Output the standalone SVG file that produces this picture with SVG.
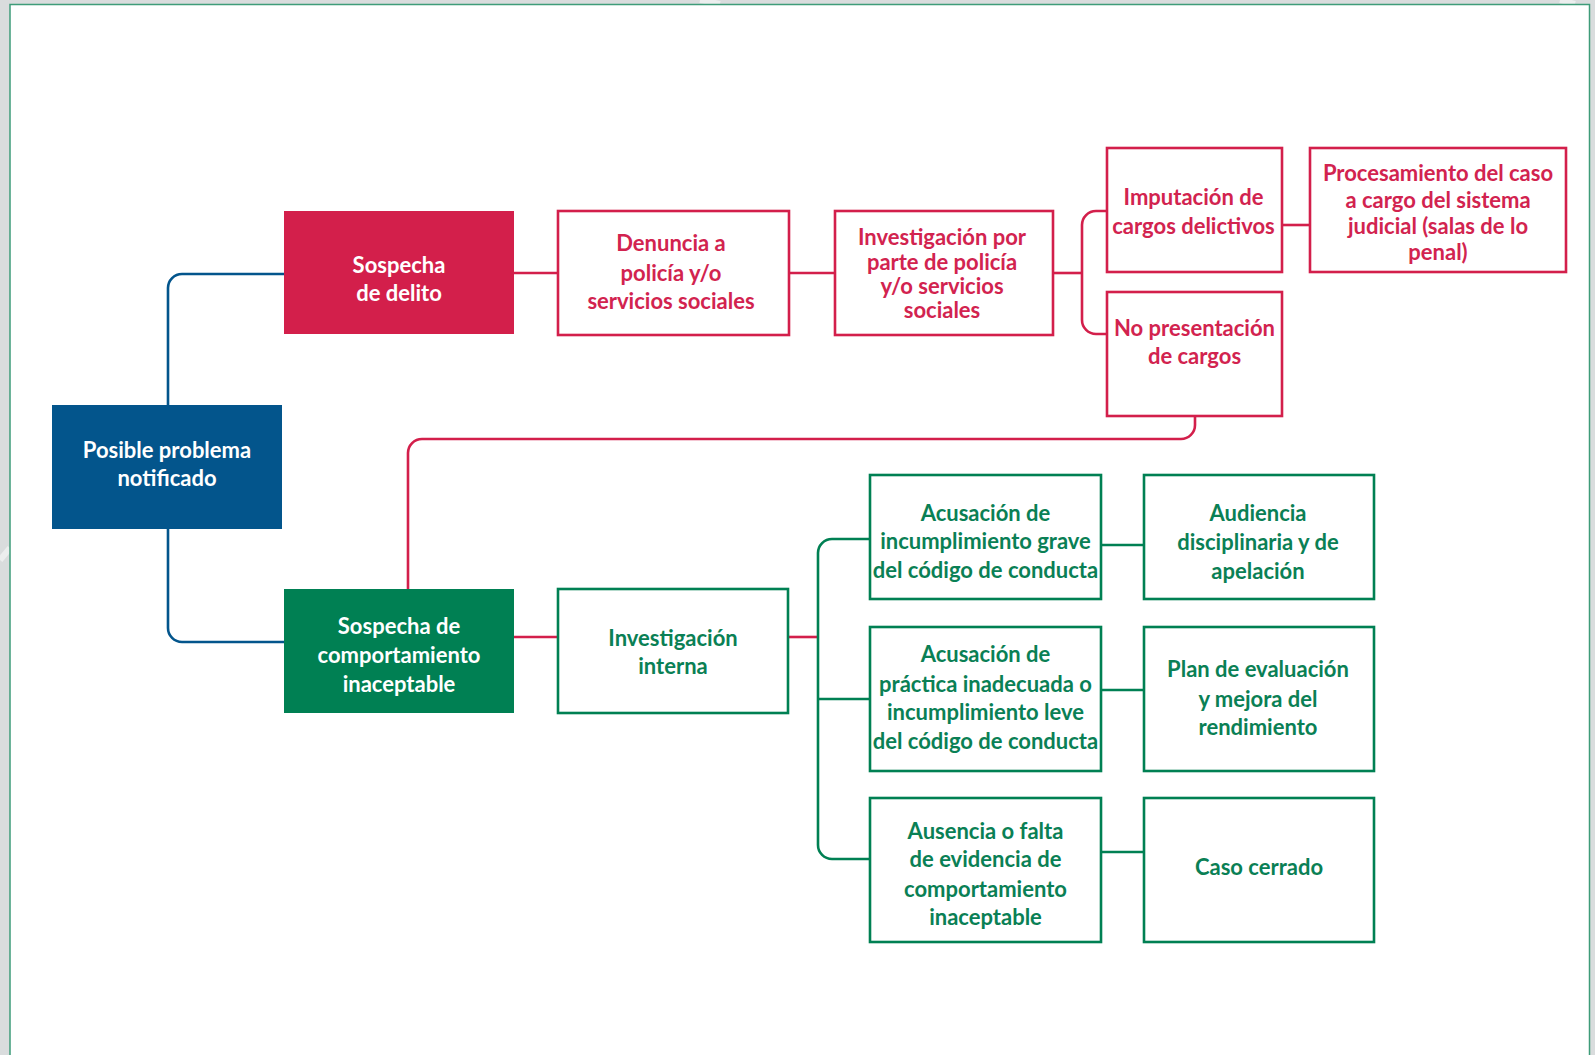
<svg xmlns="http://www.w3.org/2000/svg" width="1595" height="1055" viewBox="0 0 1595 1055">
<style>
  text { font-family: Lato, "Noto Sans", "Liberation Sans", sans-serif; font-weight: 700; font-size: 22px; text-anchor: middle; }
  .fill-blue { fill: #03558c; }
  .fill-red { fill: #d31f4b; }
  .fill-green { fill: #008053; }
  .wt { fill: #ffffff; }
  .rt { fill: #d2234f; }
  .gt { fill: #0a8055; }
  .box-red { fill: #ffffff; stroke: #d31f4b; stroke-width: 2.6; }
  .box-green { fill: #ffffff; stroke: #008053; stroke-width: 2.6; }
  .ln { fill: none; stroke-width: 2.6; }
  .lb { stroke: #03558c; }
  .lr { stroke: #d31f4b; }
  .lg { stroke: #008053; }
</style>
<rect x="0" y="0" width="1595" height="1055" fill="#d9dcdd"/>
<g opacity="0.5" fill="none" stroke="#ffffff" stroke-width="6">
  <path d="M0,560 L10,548"/>
  <path d="M700,0 L720,4"/>
  <path d="M1560,0 L1575,4"/>
</g>
<rect x="10" y="4.5" width="1579.5" height="1060" fill="#ffffff" stroke="#3e9c79" stroke-width="1.5"/>

<g id="connectors">
  <path class="ln lb" d="M168,405 V288 A14,14 0 0 1 182,274 H284"/>
  <path class="ln lb" d="M168,529 V628 A14,14 0 0 0 182,642 H284"/>
  <path class="ln lr" d="M514,273 H558"/>
  <path class="ln lr" d="M789,273 H835"/>
  <path class="ln lr" d="M1053,273 H1082"/>
  <path class="ln lr" d="M1107,211 H1096 A14,14 0 0 0 1082,225 V320 A14,14 0 0 0 1096,334 H1107"/>
  <path class="ln lr" d="M1282,225 H1310"/>
  <path class="ln lr" d="M1195,416 V425 A14,14 0 0 1 1181,439 H422 A14,14 0 0 0 408,453 V589"/>
  <path class="ln lr" d="M514,637 H558"/>
  <path class="ln lr" d="M788,637 H818"/>
  <path class="ln lg" d="M870,539 H832 A14,14 0 0 0 818,553 V845 A14,14 0 0 0 832,859 H870"/>
  <path class="ln lg" d="M818,699 H870"/>
  <path class="ln lg" d="M1101,545 H1144"/>
  <path class="ln lg" d="M1101,690 H1144"/>
  <path class="ln lg" d="M1101,852 H1144"/>
</g>

<g id="posible-problema">
  <rect class="fill-blue" x="52" y="405" width="230" height="124"/>
  <text class="wt" x="167" y="458">Posible problema</text>
  <text class="wt" x="167" y="486">notificado</text>
</g>

<g id="sospecha-delito">
  <rect class="fill-red" x="284" y="211" width="230" height="123"/>
  <text class="wt" x="399" y="273">Sospecha</text>
  <text class="wt" x="399" y="301">de delito</text>
</g>

<g id="sospecha-comportamiento">
  <rect class="fill-green" x="284" y="589" width="230" height="124"/>
  <text class="wt" x="399" y="634">Sospecha de</text>
  <text class="wt" x="399" y="663">comportamiento</text>
  <text class="wt" x="399" y="692">inaceptable</text>
</g>

<g id="denuncia">
  <rect class="box-red" x="558" y="211" width="231" height="124"/>
  <text class="rt" x="671" y="251">Denuncia a</text>
  <text class="rt" x="671" y="281">policía y/o</text>
  <text class="rt" x="671" y="309">servicios sociales</text>
</g>

<g id="investigacion-policia">
  <rect class="box-red" x="835" y="211" width="218" height="124"/>
  <text class="rt" x="942" y="245">Investigación por</text>
  <text class="rt" x="942" y="269.5">parte de policía</text>
  <text class="rt" x="942" y="293.5">y/o servicios</text>
  <text class="rt" x="942" y="318">sociales</text>
</g>

<g id="imputacion">
  <rect class="box-red" x="1107" y="148" width="175" height="124"/>
  <text class="rt" x="1193.5" y="204.5">Imputación de</text>
  <text class="rt" x="1193.5" y="234">cargos delictivos</text>
</g>

<g id="procesamiento">
  <rect class="box-red" x="1310" y="148" width="256" height="124"/>
  <text class="rt" x="1438" y="181">Procesamiento del caso</text>
  <text class="rt" x="1438" y="207.5">a cargo del sistema</text>
  <text class="rt" x="1438" y="233.5">judicial (salas de lo</text>
  <text class="rt" x="1438" y="259.5">penal)</text>
</g>

<g id="no-presentacion">
  <rect class="box-red" x="1107" y="292" width="175" height="124"/>
  <text class="rt" x="1194.5" y="335.5">No presentación</text>
  <text class="rt" x="1194.5" y="363.5">de cargos</text>
</g>

<g id="investigacion-interna">
  <rect class="box-green" x="558" y="589" width="230" height="124"/>
  <text class="gt" x="673" y="645.5">Investigación</text>
  <text class="gt" x="673" y="674">interna</text>
</g>

<g id="acusacion-grave">
  <rect class="box-green" x="870" y="475" width="231" height="124"/>
  <text class="gt" x="985.5" y="520.5">Acusación de</text>
  <text class="gt" x="985.5" y="549">incumplimiento grave</text>
  <text class="gt" x="985.5" y="578">del código de conducta</text>
</g>

<g id="audiencia">
  <rect class="box-green" x="1144" y="475" width="230" height="124"/>
  <text class="gt" x="1258" y="521">Audiencia</text>
  <text class="gt" x="1258" y="550">disciplinaria y de</text>
  <text class="gt" x="1258" y="579">apelación</text>
</g>

<g id="acusacion-leve">
  <rect class="box-green" x="870" y="627" width="231" height="144"/>
  <text class="gt" x="985.5" y="662">Acusación de</text>
  <text class="gt" x="985.5" y="691.5">práctica inadecuada o</text>
  <text class="gt" x="985.5" y="720">incumplimiento leve</text>
  <text class="gt" x="985.5" y="749">del código de conducta</text>
</g>

<g id="plan-evaluacion">
  <rect class="box-green" x="1144" y="627" width="230" height="144"/>
  <text class="gt" x="1258" y="677">Plan de evaluación</text>
  <text class="gt" x="1258" y="706.5">y mejora del</text>
  <text class="gt" x="1258" y="735">rendimiento</text>
</g>

<g id="ausencia">
  <rect class="box-green" x="870" y="798" width="231" height="144"/>
  <text class="gt" x="985.5" y="839">Ausencia o falta</text>
  <text class="gt" x="985.5" y="867">de evidencia de</text>
  <text class="gt" x="985.5" y="897">comportamiento</text>
  <text class="gt" x="985.5" y="925">inaceptable</text>
</g>

<g id="caso-cerrado">
  <rect class="box-green" x="1144" y="798" width="230" height="144"/>
  <text class="gt" x="1259" y="874.5">Caso cerrado</text>
</g>
</svg>
